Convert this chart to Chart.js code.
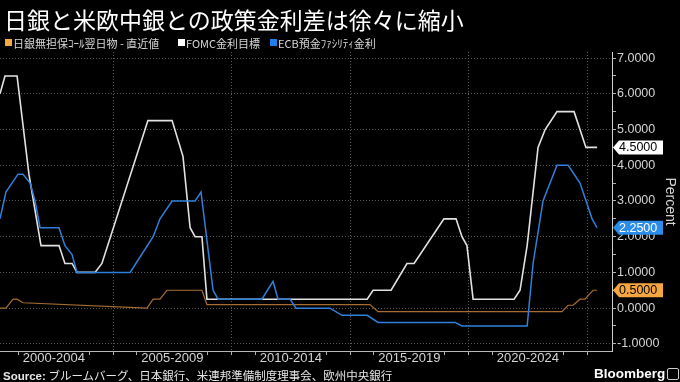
<!DOCTYPE html>
<html><head><meta charset="utf-8">
<script src="https://cdn.jsdelivr.net/npm/chart.js@4.4.1/dist/chart.umd.min.js"></script>
<style>
html,body{margin:0;padding:0;background:#000;}
#wrap{position:relative;width:680px;height:382px;overflow:hidden;background:#000;font-family:"Noto Sans CJK JP","Liberation Sans",sans-serif;}
#title{position:absolute;left:4px;top:4px;font-size:23px;color:#fff;white-space:nowrap;line-height:30px;}
.li{position:absolute;top:35px;white-space:nowrap;line-height:16px;font-size:11px;color:#d8d8d8;}
.sw{position:absolute;left:-8px;top:4px;width:7px;height:7px;}
#foot{position:absolute;left:3px;top:367px;font-size:11.5px;color:#e6e6e6;white-space:nowrap;line-height:16px;}
#foot b{font-family:"Liberation Sans",sans-serif;font-weight:bold;}
#bb{position:absolute;left:594px;top:366px;font:bold 13.5px "Liberation Sans",sans-serif;color:#fff;line-height:16px;}
#icon{position:absolute;left:667px;top:368px;width:10px;height:10px;border:1px solid #ccc;border-radius:2px;}
canvas{position:absolute;left:0;top:0;}
</style></head>
<body>
<div id="wrap">
<canvas id="c" width="680" height="382"></canvas>
<div id="title">日銀と米欧中銀との政策金利差は徐々に縮小</div>
<div class="li" style="left:13px"><span class="sw" style="background:#f7a83e"></span><span id="l0"></span></div>
<div class="li" style="left:186px"><span class="sw" style="background:#ffffff"></span><span id="l1"></span></div>
<div class="li" style="left:278px"><span class="sw" style="background:#1e7fe8"></span><span id="l2"></span></div>
<div id="foot"><b>Source:</b> ブルームバーグ、日本銀行、米連邦準備制度理事会、欧州中央銀行</div>
<div id="bb">Bloomberg</div><div id="icon"></div>
</div>
<script>
// ---- data (decimal years, percent) ----
const seriesNames = ['日銀無担保ｺｰﾙ翌日物 - 直近値', 'FOMC金利目標', 'ECB預金ﾌｧｼﾘﾃｨ金利'];
const xLabels = ['2000-2004', '2005-2009', '2010-2014', '2015-2019', '2020-2024'];
const yTickValues = [-1, 0, 1, 2, 3, 4, 5, 6, 7];

const bojDates = [2000.23, 2000.48, 2000.78, 2000.95, 2001.2, 2006.43, 2006.69, 2006.98, 2007.27, 2008.75, 2008.96, 2015.84, 2016.18, 2023.94, 2024.2, 2024.41, 2024.7, 2024.91, 2025.25, 2025.42];
const bojRates = [0.0, 0.0, 0.25, 0.25, 0.15, 0.0, 0.25, 0.25, 0.5, 0.5, 0.1, 0.1, -0.1, -0.1, 0.08, 0.08, 0.25, 0.25, 0.5, 0.5];

const fomcDates = [2000.23, 2000.44, 2000.95, 2001.45, 2001.96, 2002.72, 2002.97, 2003.27, 2003.48, 2004.24, 2004.53, 2006.47, 2007.49, 2007.95, 2008.25, 2008.46, 2008.75, 2008.96, 2015.72, 2015.97, 2016.73, 2017.4, 2017.7, 2018.96, 2019.47, 2019.72, 2019.93, 2020.19, 2021.92, 2022.17, 2022.47, 2022.93, 2023.23, 2023.73, 2024.45, 2024.95, 2025.42];
const fomcRates = [6.0, 6.5, 6.5, 3.75, 1.75, 1.75, 1.25, 1.25, 1.0, 1.0, 1.25, 5.25, 5.25, 4.25, 2.25, 2.0, 2.0, 0.25, 0.25, 0.5, 0.5, 1.25, 1.25, 2.5, 2.5, 2.0, 1.75, 0.25, 0.25, 0.5, 1.75, 4.5, 5.0, 5.5, 5.5, 4.5, 4.5];

const ecbDates = [2000.23, 2000.48, 2000.99, 2001.2, 2001.5, 2001.71, 2001.92, 2002.72, 2002.97, 2003.27, 2003.48, 2005.72, 2006.69, 2006.98, 2007.49, 2008.46, 2008.71, 2009.22, 2009.43, 2011.28, 2011.75, 2011.96, 2012.47, 2012.72, 2014.15, 2014.66, 2015.72, 2016.18, 2019.43, 2019.72, 2022.47, 2022.72, 2023.14, 2023.73, 2024.2, 2024.7, 2025.21, 2025.42];
const ecbRates = [2.5, 3.25, 3.75, 3.75, 3.5, 3.0, 2.25, 2.25, 1.75, 1.5, 1.0, 1.0, 2.0, 2.5, 3.0, 3.0, 3.25, 0.5, 0.25, 0.25, 0.75, 0.25, 0.25, 0.0, 0.0, -0.2, -0.2, -0.4, -0.4, -0.5, -0.5, 1.25, 3.0, 4.0, 4.0, 3.5, 2.5, 2.25];

// ---- style ----
const lineColors = ['#a66d30', '#e2e2e2', '#2f80dc'];
const tagColors = [['#f6a640', '#000'], ['#ffffff', '#000'], ['#2b8de9', '#fff']];
seriesNames.forEach((n, i) => document.getElementById('l' + i).textContent = n);

const pts = (d, v) => d.map((x, i) => ({x: x, y: v[i]}));
const labelYear0 = 2000, binYears = 5;

const tagPlugin = {
  id: 'tags',
  afterDraw(chart) {
    const ctx = chart.ctx, ys = chart.scales.y;
    const x0 = chart.chartArea.right + 1;
    chart.data.datasets.forEach((ds, i) => {
      const v = ds.data[ds.data.length - 1].y;
      const y = ys.getPixelForValue(v);
      const [bg, fg] = tagColors[ds.tagIndex];
      ctx.save();
      ctx.fillStyle = bg;
      ctx.beginPath();
      ctx.moveTo(x0, y);
      ctx.lineTo(x0 + 6, y - 7);
      ctx.lineTo(x0 + 50, y - 7);
      ctx.lineTo(x0 + 50, y + 7);
      ctx.lineTo(x0 + 6, y + 7);
      ctx.closePath();
      ctx.fill();
      ctx.fillStyle = fg;
      ctx.font = '12.5px "Liberation Sans", sans-serif';
      ctx.textBaseline = 'middle';
      ctx.fillText(v.toFixed(4), x0 + 6, y + 0.5);
      ctx.restore();
    });
  }
};

new Chart(document.getElementById('c'), {
  type: 'line',
  data: {
    datasets: [
      {label: seriesNames[2], data: pts(ecbDates, ecbRates), borderColor: lineColors[2], borderWidth: 1.5, order: 0, tagIndex: 2},
      {label: seriesNames[1], data: pts(fomcDates, fomcRates), borderColor: lineColors[1], borderWidth: 1.6, order: 1, tagIndex: 1},
      {label: seriesNames[0], data: pts(bojDates, bojRates), borderColor: lineColors[0], borderWidth: 1.2, order: 2, tagIndex: 0}
    ]
  },
  options: {
    responsive: false,
    animation: false,
    events: [],
    layout: {padding: {top: 52, left: 0, right: 0, bottom: 0}},
    elements: {point: {radius: 0}, line: {tension: 0, fill: false}},
    plugins: {legend: {display: false}, tooltip: {enabled: false}, title: {display: false}},
    scales: {
      x: {
        type: 'linear',
        min: 2000.23, max: 2026.05,
        afterFit: s => { s.height = 31; },
        afterBuildTicks: s => {
          const t = [];
          xLabels.forEach((l, i) => {
            const start = labelYear0 + binYears * i;
            if (i > 0) t.push({value: start});
            t.push({value: start + 1}, {value: start + binYears / 2}, {value: start + 4});
          });
          t.push({value: labelYear0 + binYears * xLabels.length});
          s.ticks = t;
        },
        ticks: {
          autoSkip: false, maxRotation: 0, minRotation: 0, padding: -4,
          color: '#d4d4d4', font: {family: '"Liberation Sans", sans-serif', size: 13},
          callback: v => {
            const k = (v - labelYear0 - binYears / 2) / binYears;
            return Math.abs(k - Math.round(k)) < 1e-6 ? xLabels[Math.round(k)] : '';
          }
        },
        grid: {
          color: c => (c.tick && Math.abs((c.tick.value - labelYear0) % binYears) < 1e-6) ? '#5a5a5a' : 'rgba(0,0,0,0)',
          tickColor: c => (c.tick && Math.abs(((c.tick.value - labelYear0) % binYears) - binYears / 2) < 1e-6) ? 'rgba(0,0,0,0)' : '#b0b0b0',
          tickLength: 4, lineWidth: 1, drawOnChartArea: true
        },
        border: {display: true, color: '#b8b8b8', width: 1, dash: [1, 2]}
      },
      y: {
        position: 'right',
        min: -1.2, max: 7.17,
        afterFit: s => { s.width = 68; },
        afterBuildTicks: s => {
          const t = [];
          for (let i = 0; i < yTickValues.length; i++) {
            t.push({value: yTickValues[i]});
            if (i < yTickValues.length - 1) t.push({value: (yTickValues[i] + yTickValues[i + 1]) / 2});
          }
          s.ticks = t;
        },
        ticks: {
          autoSkip: false, padding: 1,
          color: '#d4d4d4', font: {family: '"Liberation Sans", sans-serif', size: 12.5},
          callback: v => yTickValues.includes(v) ? v.toFixed(4) : ''
        },
        grid: {
          color: c => (c.tick && yTickValues.includes(c.tick.value)) ? '#5a5a5a' : 'rgba(0,0,0,0)',
          tickColor: '#b0b0b0', tickLength: 4, lineWidth: 1
        },
        border: {display: true, color: '#d0d0d0', width: 1, dash: [1, 2]},
        title: {display: true, text: 'Percent', color: '#d4d4d4', padding: {top: 2, bottom: 2},
                font: {family: '"Liberation Sans", sans-serif', size: 14}}
      }
    }
  },
  plugins: [tagPlugin]
});
</script>
</body></html>
